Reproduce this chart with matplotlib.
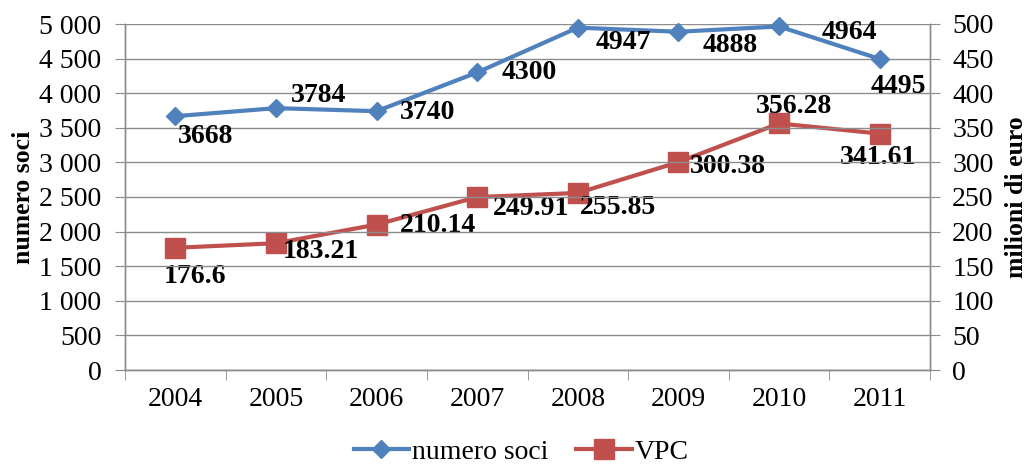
import matplotlib.pyplot as plt
from matplotlib.ticker import FuncFormatter, MultipleLocator
import numpy as np

plt.rcParams['font.family'] = ['Liberation Serif', 'DejaVu Serif']

years = ['2004', '2005', '2006', '2007', '2008', '2009', '2010', '2011']
soci = [3668, 3784, 3740, 4300, 4947, 4888, 4964, 4495]
vpc = [176.6, 183.21, 210.14, 249.91, 255.85, 300.38, 356.28, 341.61]
soci_labels = ['3668', '3784', '3740', '4300', '4947', '4888', '4964', '4495']
vpc_labels = ['176.6', '183.21', '210.14', '249.91', '255.85', '300.38', '356.28', '341.61']

# label offsets in pixels (dx, dy up)
soci_off = [(30, -20), (43, 13), (51, -1), (52, 0), (46, -15), (52, -14), (70, -6), (19, -28)]
vpc_off = [(20, -29), (45, -8), (61, -1), (54, -11), (40, -15), (49, -4), (15, 17), (-2, -24)]

BLUE = '#4F81BD'
RED = '#C0504D'
GRID = '#8C8C8C'


def thousands(v, pos):
    v = int(v)
    if v >= 1000:
        return f'{v // 1000} {v % 1000:03d}'
    return str(v)


fig = plt.figure(figsize=(10.28, 4.66), dpi=100)
ax = fig.add_axes([125 / 1028, 1 - 370 / 466, 805 / 1028, 346 / 466])
ax2 = ax.twinx()

x = np.arange(len(years))

l1, = ax.plot(x, soci, color=BLUE, lw=3, marker='D', ms=9,
              mfc=BLUE, mec=BLUE, zorder=5, clip_on=False)
l2, = ax2.plot(x, vpc, color=RED, lw=3, marker='s', ms=14,
               mfc=RED, mec=RED, zorder=5, clip_on=False)

for xi, v, t, (dx, dy) in zip(x, soci, soci_labels, soci_off):
    ax.annotate(t, (xi, v), xytext=(dx, dy), textcoords='offset pixels',
                ha='center', va='center', fontsize=20, fontweight='bold', zorder=6)
for xi, v, t, (dx, dy) in zip(x, vpc, vpc_labels, vpc_off):
    ax2.annotate(t, (xi, v), xytext=(dx, dy), textcoords='offset pixels',
                 ha='center', va='center', fontsize=20, fontweight='bold', zorder=6)

ax.set_xlim(-0.5, len(years) - 0.5)
ax.set_ylim(0, 5000)
ax2.set_ylim(0, 500)
ax.yaxis.set_major_locator(MultipleLocator(500))
ax2.yaxis.set_major_locator(MultipleLocator(50))
ax.yaxis.set_major_formatter(FuncFormatter(thousands))

ax.set_xticks(x)
ax.set_xticklabels(years)
ax.set_xticks(np.arange(-0.5, len(years)), minor=True)
ax.tick_params(axis='x', which='major', length=0, pad=12, labelsize=20)
ax.tick_params(axis='x', which='minor', length=7, color=GRID, direction='out')
ax.tick_params(axis='y', length=7, color=GRID, direction='out', pad=10, labelsize=20)
ax2.tick_params(axis='y', length=7, color=GRID, direction='out', pad=9, labelsize=20)

ax.grid(axis='y', color=GRID, lw=1)
ax.set_axisbelow(True)
for a in (ax, ax2):
    a.spines['top'].set_visible(False)
    for s in ('left', 'right', 'bottom'):
        a.spines[s].set_color(GRID)
        a.spines[s].set_linewidth(1)

ax.set_ylabel('numero soci', fontsize=18.5, fontweight='bold')
ax.yaxis.set_label_coords((35 - 125) / 805, 0.5)
ax2.set_ylabel('milioni di euro', fontsize=18.5, fontweight='bold', labelpad=8)

ax.set_zorder(ax2.get_zorder() + 1)
ax.patch.set_visible(False)

fig.legend([l1, l2], ['numero soci', 'VPC'], loc='center',
           bbox_to_anchor=(521 / 1028, 1 - 452 / 466), ncol=2, frameon=False,
           fontsize=20, handlelength=2.0, handletextpad=0.1, columnspacing=1.0,
           borderpad=0.1)

fig.savefig('out.png', dpi=100)
